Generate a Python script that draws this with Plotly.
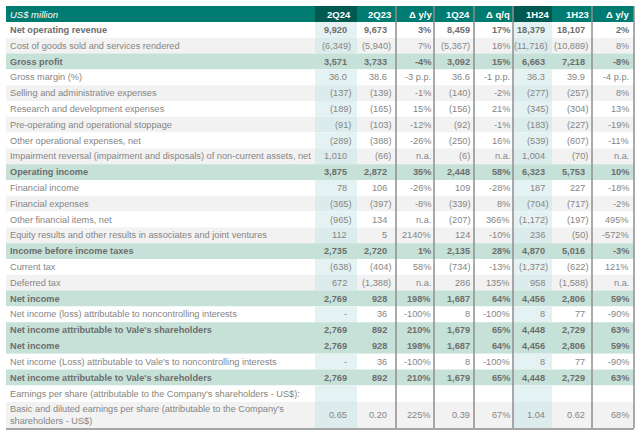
import plotly.graph_objects as go

# ---------------- data ----------------
title_cell = "US$ million"
columns = ["2Q24", "2Q23", "Δ y/y", "1Q24", "Δ q/q", "1H24", "1H23", "Δ y/y"]

labels = [
    "Net operating revenue",
    "Cost of goods sold and services rendered",
    "Gross profit",
    "Gross margin (%)",
    "Selling and administrative expenses",
    "Research and development expenses",
    "Pre-operating and operational stoppage",
    "Other operational expenses, net",
    "Impairment reversal (impairment and disposals) of non-current assets, net",
    "Operating income",
    "Financial income",
    "Financial expenses",
    "Other financial items, net",
    "Equity results and other results in associates and joint ventures",
    "Income before income taxes",
    "Current tax",
    "Deferred tax",
    "Net income",
    "Net income (loss) attributable to noncontrolling interests",
    "Net income attributable to Vale's shareholders",
    "Net income",
    "Net income (Loss) attributable to Vale's to noncontrolling interests",
    "Net income attributable to Vale's shareholders",
    "Earnings per share (attributable to the Company's shareholders - US$):",
    "Basic and diluted earnings per share (attributable to the Company's<br>shareholders - US$)",
]

# row kinds: b = bold/highlighted, n = normal, s = sub-header
row_kind = ["b1", "n", "b", "n", "n", "n", "n", "n", "n", "b", "n", "n", "n", "n",
            "b", "n", "n", "b", "n", "b", "b", "n", "b", "s", "n"]

q2_24 = ["9,920", "(6,349)", "3,571", "36.0", "(137)", "(189)", "(91)", "(289)", "1,010", "3,875",
         "78", "(365)", "(965)", "112", "2,735", "(638)", "672", "2,769", "-", "2,769", "2,769",
         "-", "2,769", "", "0.65"]
q2_23 = ["9,673", "(5,940)", "3,733", "38.6", "(139)", "(165)", "(103)", "(388)", "(66)", "2,872",
         "106", "(397)", "134", "5", "2,720", "(404)", "(1,388)", "928", "36", "892", "928",
         "36", "892", "", "0.20"]
d_yy_q = ["3%", "7%", "-4%", "-3 p.p.", "-1%", "15%", "-12%", "-26%", "n.a.", "35%",
          "-26%", "-8%", "n.a.", "2140%", "1%", "58%", "n.a.", "198%", "-100%", "210%", "198%",
          "-100%", "210%", "", "225%"]
q1_24 = ["8,459", "(5,367)", "3,092", "36.6", "(140)", "(156)", "(92)", "(250)", "(6)", "2,448",
         "109", "(339)", "(207)", "124", "2,135", "(734)", "286", "1,687", "8", "1,679", "1,687",
         "8", "1,679", "", "0.39"]
d_qq = ["17%", "18%", "15%", "-1 p.p.", "-2%", "21%", "-1%", "16%", "n.a.", "58%",
        "-28%", "8%", "366%", "-10%", "28%", "-13%", "135%", "64%", "-100%", "65%", "64%",
        "-100%", "65%", "", "67%"]
h1_24 = ["18,379", "(11,716)", "6,663", "36.3", "(277)", "(345)", "(183)", "(539)", "1,004", "6,323",
         "187", "(704)", "(1,172)", "236", "4,870", "(1,372)", "958", "4,456", "8", "4,448", "4,456",
         "8", "4,448", "", "1.04"]
h1_23 = ["18,107", "(10,889)", "7,218", "39.9", "(257)", "(304)", "(227)", "(607)", "(70)", "5,753",
         "227", "(717)", "(197)", "(50)", "5,016", "(622)", "(1,588)", "2,806", "77", "2,729", "2,806",
         "77", "2,729", "", "0.62"]
d_yy_h = ["2%", "8%", "-8%", "-4 p.p.", "8%", "13%", "-19%", "-11%", "n.a.", "10%",
          "-18%", "-2%", "495%", "-572%", "-3%", "121%", "n.a.", "59%", "-90%", "63%", "59%",
          "-90%", "63%", "", "68%"]

data_cols = [q2_24, q2_23, d_yy_q, q1_24, d_qq, h1_24, h1_23, d_yy_h]

# ---------------- layout geometry ----------------
X_LEFT, X_RIGHT = 6, 634
col_edges = [315, 357, 396, 434, 474, 513, 552, 592, 634]
text_right = [352.7, 392.7, 433.0, 471.7, 511.7, 550.0, 590.0, 630.5]
paren_cols = {0, 1, 5, 6}
tint_cols = {0, 5}
sep_x = [396, 434, 474, 513, 592, 634]

HEADER_TOP, HEADER_BOT = 6, 22
row_h = [15.8] * 23 + [16.6, 26.0]
row_top = []
y = HEADER_BOT
for h in row_h:
    row_top.append(y)
    y += h
TABLE_BOT = y

TEAL = "#007B72"
TEAL_DARK = "#005A52"
GREEN = "#C6E1D7"
GRAY_ROW = "#F2F2F2"
WHITE = "#FFFFFF"
TINT_W = "#E5F2F3"
TINT_G = "#DCEBEC"
TXT = "#858585"
TXT_B = "#6E6E6E"
FONT = "Liberation Sans, Arial, sans-serif"
FS = 9.2

white_gray = ["w", "g", None, "w", "g", "w", "g", "w", "g", None, "w", "g", "w", "g",
              None, "w", "g", None, "w", None, None, "w", None, "w", "g"]

shapes = []
annotations = []

# header
shapes.append(dict(type="rect", xref="x", yref="y", x0=X_LEFT, x1=X_RIGHT, y0=HEADER_TOP, y1=HEADER_BOT,
                   fillcolor=TEAL, line=dict(width=0), layer="below"))
for c in tint_cols:
    shapes.append(dict(type="rect", xref="x", yref="y", x0=col_edges[c], x1=col_edges[c + 1],
                       y0=HEADER_TOP, y1=HEADER_BOT, fillcolor=TEAL_DARK, line=dict(width=0), layer="below"))
hy = (HEADER_TOP + HEADER_BOT) / 2
annotations.append(dict(x=8, y=hy, xref="x", yref="y", text="<i>" + title_cell + "</i>", showarrow=False,
                        xanchor="left", yanchor="middle", font=dict(family=FONT, size=FS + 0.3, color="white")))
for c, name in enumerate(columns):
    annotations.append(dict(x=text_right[c] + 0.5, y=hy, xref="x", yref="y", text="<b>" + name + "</b>",
                            showarrow=False, xanchor="right", yanchor="middle",
                            font=dict(family=FONT, size=FS + 0.3, color="white")))

# rows
for i, lab in enumerate(labels):
    y0 = row_top[i]
    y1 = y0 + row_h[i]
    kind = row_kind[i]
    wg = white_gray[i]
    if wg is None:
        fill = GREEN
    elif wg == "w":
        fill = WHITE
    else:
        fill = GRAY_ROW
    shapes.append(dict(type="rect", xref="x", yref="y", x0=X_LEFT, x1=X_RIGHT, y0=y0, y1=y1,
                       fillcolor=fill, line=dict(width=0), layer="below"))
    if wg is not None:
        for c in tint_cols:
            shapes.append(dict(type="rect", xref="x", yref="y", x0=col_edges[c], x1=col_edges[c + 1],
                               y0=y0, y1=y1, fillcolor=TINT_W if wg == "w" else TINT_G,
                               line=dict(width=0), layer="below"))
    bold = kind.startswith("b")
    col = TXT_B if bold else TXT
    if kind == "s":
        col = "#8A8474"
    yc = (y0 + y1) / 2
    txt = "<b>" + lab + "</b>" if bold else lab
    annotations.append(dict(x=8, y=yc, xref="x", yref="y", text=txt, showarrow=False,
                            xanchor="left", yanchor="middle", align="left",
                            font=dict(family=FONT, size=FS, color=col)))
    for c, vals in enumerate(data_cols):
        v = vals[i]
        if not v:
            continue
        xr = text_right[c]
        if c in paren_cols and not v.endswith(")"):
            xr -= 3.4
        annotations.append(dict(x=xr, y=yc, xref="x", yref="y",
                                text="<b>" + v + "</b>" if bold else v, showarrow=False,
                                xanchor="right", yanchor="middle",
                                font=dict(family=FONT, size=FS, color=col)))

# vertical separators
for sx in sep_x:
    shapes.append(dict(type="line", xref="x", yref="y", x0=sx, x1=sx, y0=HEADER_TOP, y1=TABLE_BOT,
                       line=dict(color="#8E8E8E", width=1.5), layer="above"))
# bottom border
shapes.append(dict(type="line", xref="x", yref="y", x0=X_LEFT, x1=X_RIGHT, y0=TABLE_BOT + 1, y1=TABLE_BOT + 1,
                   line=dict(color="#A6A6A6", width=2), layer="above"))

fig = go.Figure()
fig.add_trace(go.Scatter(x=[0, 640], y=[0, 436], mode="markers", marker=dict(opacity=0),
                         hoverinfo="skip", showlegend=False))
fig.update_layout(
    width=640, height=436,
    margin=dict(l=0, r=0, t=0, b=0),
    paper_bgcolor="white", plot_bgcolor="white",
    xaxis=dict(range=[0, 640], visible=False, fixedrange=True),
    yaxis=dict(range=[436, 0], visible=False, fixedrange=True),
    shapes=shapes, annotations=annotations, showlegend=False,
)
fig.write_html(
    "out.html",
    config={"displayModeBar": False},
    post_script="document.body.style.margin='0';document.body.style.overflow='hidden';",
)
